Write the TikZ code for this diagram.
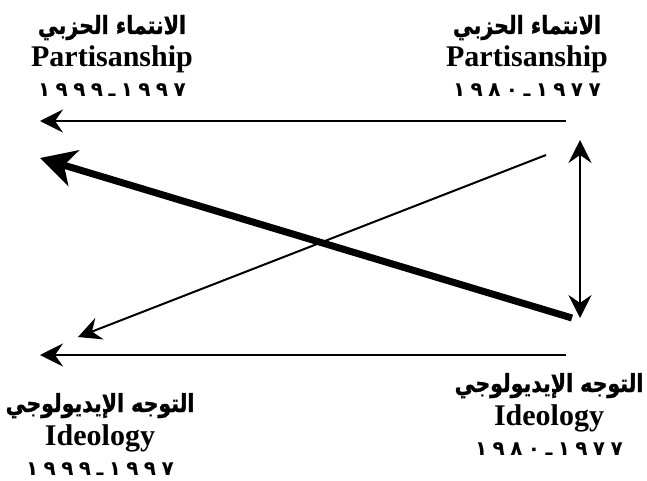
\documentclass[tikz,border=0pt]{standalone}
\usepackage{fontspec}
\setmainfont{Liberation Serif}
\newfontfamily\arabicfont[Script=Arabic, FakeStretch=0.82, BoldFeatures={FakeBold=1.2}]{DejaVu Sans}
\newfontfamily\yearfont[Script=Arabic, LetterSpace=27]{DejaVu Sans}
\TeXXeTstate=1
\usetikzlibrary{arrows.meta}

\newcommand{\varlabel}[6]{\node[ar] (#1-ar) at (#2,#3-33) {#4};
\node[en] (#1-en) at (#2,#3) {#5};
\node[yr] (#1-yr) at (#2,#3+30) {#6};}

\begin{document}
\begin{tikzpicture}[x = 1pt, y = -1pt,
  ar/.style = {anchor = base, inner sep = 0pt, font = \arabicfont\bfseries\fontsize{25}{28}\selectfont},
  en/.style = {anchor = base, inner sep = 0pt, font = \bfseries\fontsize{30}{34}\selectfont},
  yr/.style = {anchor = base, inner sep = 0pt, font = \yearfont\bfseries\fontsize{20}{24}\selectfont},
  thinarrow/.style = {line width = 2pt, -{Stealth[length = 23pt, width = 23pt, inset = 8pt]}},
  thickarrow/.style = {line width = 7pt, -{Stealth[length = 35pt, width = 37pt, inset = 10pt]}}]
\useasboundingbox (0,0) rectangle (647,481);
\varlabel{pnew}{112}{67}{\beginR الانتماء الحزبي\endR}{Partisanship}{\beginR ١٩٩٧ـ١٩٩٩\endR}
\varlabel{pold}{527}{67}{\beginR الانتماء الحزبي\endR}{Partisanship}{\beginR ١٩٧٧ـ١٩٨٠\endR}
\varlabel{inew}{100}{445}{\beginR التوجه الإيديولوجي\endR}{Ideology}{\beginR ١٩٩٧ـ١٩٩٩\endR}
\varlabel{iold}{549}{425}{\beginR التوجه الإيديولوجي\endR}{Ideology}{\beginR ١٩٧٧ـ١٩٨٠\endR}
\coordinate (pa1) at (566,121); \coordinate (pa2) at (40,121);
\coordinate (id1) at (566,355); \coordinate (id2) at (40,355);
\coordinate (idx) at (572,318); \coordinate (pax) at (40,158);
\coordinate (pay) at (546,155); \coordinate (idy) at (78,337);
\coordinate (vt) at (580,140); \coordinate (vb) at (580,318);
\draw[thinarrow] (pa1) -- (pa2);
\draw[thinarrow] (id1) -- (id2);
\draw[thickarrow] (idx) -- (pax);
\draw[thinarrow] (pay) -- (idy);
\draw[thinarrow, {Stealth[length = 23pt, width = 23pt, inset = 8pt]}-{Stealth[length = 23pt, width = 23pt, inset = 8pt]}] (vb) -- (vt);
\end{tikzpicture}
\end{document}
